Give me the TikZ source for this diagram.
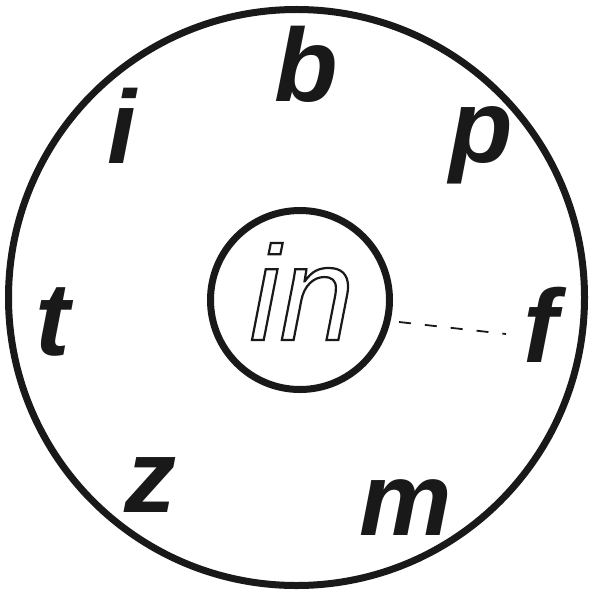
\documentclass[tikz,border=0pt]{standalone}
\usepackage{fontspec}
\setmainfont{Liberation Sans}
\newcommand{\hollowtext}[1]{\special{pdf:literal direct 1 Tr 2.2 w 0.1 G}#1\special{pdf:literal direct 0 Tr 1 w 0 G}}
\begin{document}
\begin{tikzpicture}[x=1pt,y=-1pt,
  ring/.style={circle,draw=black!90,line width=7pt,inner sep=0pt},
  letter/.style={anchor=base,inner sep=0pt,font=\fontsize{104}{104}\selectfont\bfseries\itshape,text=black!90},
  link/.style={draw=black!90,line width=1.8pt,dash pattern=on 12pt off 14pt}]
\useasboundingbox (0,0) rectangle (593,591);
\node[ring,minimum size=576pt] (outer) at (296.5,297.5) {};
\node[ring,minimum size=179pt] (hub) at (300,300) {};
\node[anchor=base,inner sep=0pt,font=\fontsize{134}{134}\selectfont\itshape] (in) at (302,340) {\hollowtext{in}};
\node[letter] (b) at (306,101) {b};
\node[letter] (i) at (122,163) {i};
\node[letter] (p) at (481,162) {p};
\node[letter] (t) at (53,355) {t};
\node[letter] (f) at (541,362) {f};
\node[letter] (z) at (150,512) {z};
\node[letter] (m) at (406,535) {m};
\coordinate (dstart) at (399,322);
\coordinate (dend) at (506,334);
\draw[link] (dstart) -- (dend);
\end{tikzpicture}
\end{document}
